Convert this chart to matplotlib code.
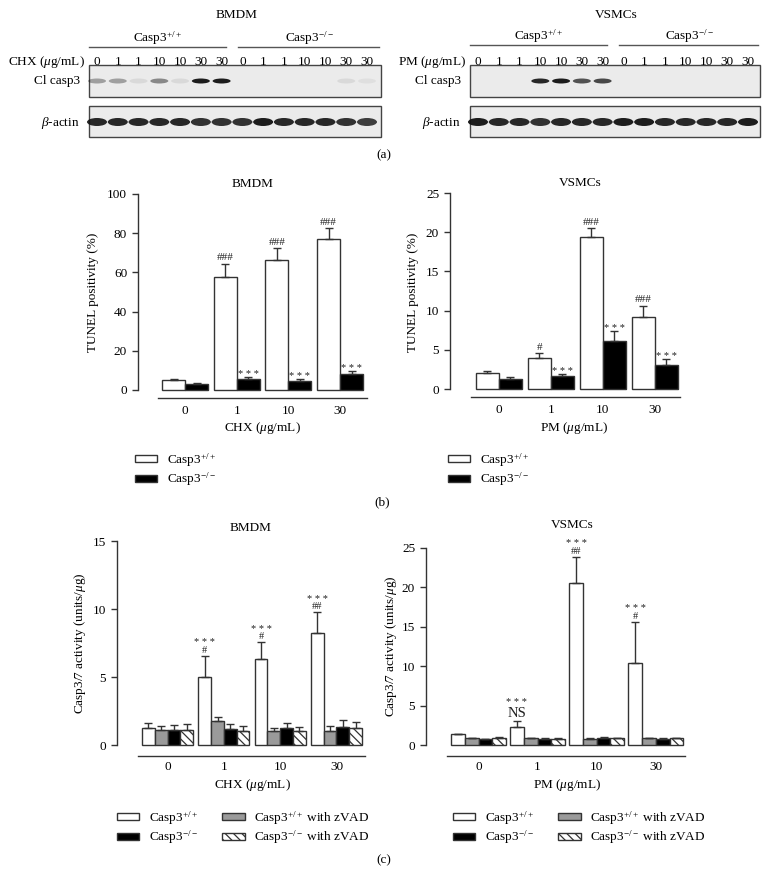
import matplotlib
matplotlib.use("Agg")
import matplotlib.pyplot as plt
from matplotlib.patches import Rectangle, Ellipse, Patch
import numpy as np

plt.rcParams['font.family'] = ['Liberation Serif', 'DejaVu Serif']
plt.rcParams['mathtext.fontset'] = 'custom'
plt.rcParams['mathtext.rm'] = 'Liberation Serif'
plt.rcParams['mathtext.it'] = 'Liberation Serif:italic'
plt.rcParams['font.size'] = 9.5
plt.rcParams['hatch.linewidth'] = 0.9

W, H = 768, 886

########################## data ##########################
doses = ['0', '1', '10', '30']
lane_doses = ['0', '1', '1', '10', '10', '30', '30'] * 2
wt = 'Casp3$^{+/+}$'
ko = 'Casp3$^{-/-}$'

# (a) band intensity per lane, 0 = no band, 1 = strongest
bmdm_cl_casp3 = [0.35, 0.35, 0.08, 0.45, 0.08, 0.95, 0.95, 0, 0, 0, 0, 0, 0.08, 0.05]
bmdm_actin = [0.9, 0.9, 0.9, 0.9, 0.9, 0.85, 0.85, 0.85, 0.95, 0.9, 0.9, 0.9, 0.85, 0.8]
vsmc_cl_casp3 = [0, 0, 0, 0.9, 0.95, 0.7, 0.75, 0, 0, 0, 0, 0, 0, 0]
vsmc_actin = [0.95, 0.9, 0.9, 0.85, 0.9, 0.9, 0.9, 0.95, 0.95, 0.9, 0.9, 0.9, 0.9, 0.95]

# (b) TUNEL positivity (%)
tunel_bmdm_wt = [5.0, 57.8, 66.3, 77.0]
tunel_bmdm_wt_err = [0.6, 6.6, 6.0, 5.5]
tunel_bmdm_ko = [3.2, 5.6, 4.6, 8.0]
tunel_bmdm_ko_err = [0.3, 0.8, 0.8, 1.7]
tunel_bmdm_wt_sig = ['', '###', '###', '###']
tunel_bmdm_ko_sig = ['', '* * *', '* * *', '* * *']

tunel_vsmc_wt = [2.0, 3.9, 19.4, 9.15]
tunel_vsmc_wt_err = [0.25, 0.65, 1.1, 1.5]
tunel_vsmc_ko = [1.28, 1.66, 6.16, 3.0]
tunel_vsmc_ko_err = [0.25, 0.2, 1.3, 0.8]
tunel_vsmc_wt_sig = ['', '#', '###', '###']
tunel_vsmc_ko_sig = ['', '* * *', '* * *', '* * *']

# (c) Casp3/7 activity (units/ug)
act_bmdm_wt = [1.22, 5.0, 6.3, 8.2]
act_bmdm_wt_err = [0.4, 1.57, 1.25, 1.55]
act_bmdm_wt_z = [1.07, 1.74, 1.0, 1.04]
act_bmdm_wt_z_err = [0.35, 0.35, 0.27, 0.35]
act_bmdm_ko = [1.13, 1.18, 1.22, 1.32]
act_bmdm_ko_err = [0.35, 0.4, 0.42, 0.5]
act_bmdm_ko_z = [1.13, 1.04, 1.0, 1.22]
act_bmdm_ko_z_err = [0.4, 0.35, 0.33, 0.45]
act_bmdm_hash = ['', '#', '#', '##']
act_bmdm_star = ['', '* * *', '* * *', '* * *']

act_vsmc_wt = [1.35, 2.33, 20.5, 10.4]
act_vsmc_wt_err = [0.1, 0.75, 3.4, 5.25]
act_vsmc_wt_z = [0.85, 0.85, 0.8, 0.85]
act_vsmc_wt_z_err = [0.05, 0.05, 0.05, 0.05]
act_vsmc_ko = [0.75, 0.78, 0.95, 0.78]
act_vsmc_ko_err = [0.05, 0.05, 0.08, 0.05]
act_vsmc_ko_z = [0.93, 0.8, 0.9, 0.85]
act_vsmc_ko_z_err = [0.1, 0.05, 0.05, 0.05]
act_vsmc_hash = ['', 'NS', '##', '#']
act_vsmc_star = ['', '* * *', '* * *', '* * *']

########################## colors ##########################
edge = '#333333'
white = '#ffffff'
black = '#000000'
gray = '#9a9a9a'

fig = plt.figure(figsize=(W / 100, H / 100), dpi=100)

# overlay in pixel coordinates for blots and free text
ax0 = fig.add_axes([0, 0, 1, 1])
ax0.set_xlim(0, W)
ax0.set_ylim(H, 0)
ax0.axis('off')


def px_axes(left, top, right, bottom):
    return fig.add_axes([left / W, 1 - bottom / H, (right - left) / W, (bottom - top) / H])


########################## (a) blots ##########################
def draw_blot(x0, x1, y0, y1, lanes, values, band_y, bw, bh):
    ax0.add_patch(Rectangle((x0, y0), x1 - x0, y1 - y0, facecolor='#ebebeb',
                            edgecolor='#444444', lw=1))
    for x, v in zip(lanes, values):
        if v > 0:
            ax0.add_patch(Ellipse((x, band_y), bw, bh, facecolor='#111111', alpha=v, lw=0))


def blot_panel(x0, x1, lane0, lane1, title, title_x, treat, casp, actin, line_y):
    lanes = np.linspace(lane0, lane1, 14)
    ax0.text(title_x, 15, title, ha='center', va='center')
    mid = (lanes[6] + lanes[7]) / 2
    ax0.plot([x0, mid - 6], [line_y, line_y], color='#555555', lw=1)
    ax0.plot([mid + 6, x1 - 2], [line_y, line_y], color='#555555', lw=1)
    ax0.text((x0 + mid - 6) / 2, line_y - 9, wt, ha='center', va='center')
    ax0.text((mid + 6 + x1) / 2, line_y - 9, ko, ha='center', va='center')
    ax0.text(x0 - 4, 62, treat + r' ($\mu$g/mL)', ha='right', va='center')
    for x, d in zip(lanes, lane_doses):
        ax0.text(x, 62, d, ha='center', va='center')
    draw_blot(x0, x1, 65, 97, lanes, casp, 81, 18, 5)
    draw_blot(x0, x1, 106, 137, lanes, actin, 122, 20, 8)
    ax0.text(x0 - 9, 81, 'Cl casp3', ha='right', va='center')
    ax0.text(x0 - 9, 123, r'$\beta$-actin', ha='right', va='center')


blot_panel(89, 381, 97, 367, 'BMDM', 237, 'CHX', bmdm_cl_casp3, bmdm_actin, 47)
blot_panel(470, 760, 478, 748, 'VSMCs', 616, 'PM', vsmc_cl_casp3, vsmc_actin, 45)
ax0.text(384, 155, '(a)', ha='center', va='center')


########################## bar panels ##########################
def style_axes(ax, xlim, ymax, yticks, bounds, offset_px, pad_px):
    ax.set_xlim(*xlim)
    ax.set_ylim(0, ymax)
    ax.patch.set_visible(False)
    for s in ['top', 'right']:
        ax.spines[s].set_visible(False)
    for s in ['left', 'bottom']:
        ax.spines[s].set_color(edge)
        ax.spines[s].set_linewidth(1.0)
    ax.spines['left'].set_bounds(0, ymax)
    ax.spines['bottom'].set_position(('outward', offset_px * 0.72))
    ax.spines['bottom'].set_bounds(*bounds)
    ax.set_xticks(range(4))
    ax.set_xticklabels(doses)
    ax.set_yticks(yticks)
    ax.tick_params(axis='x', length=0, pad=pad_px * 0.72)
    ax.tick_params(axis='y', direction='out', length=4.3, width=1, color=edge, pad=3.5)


def draw_bars(ax, series, errs, colors, hatches, width):
    n = len(series)
    x = np.arange(4)
    tops = []
    for i, (vals, err, c, h) in enumerate(zip(series, errs, colors, hatches)):
        pos = x + (i - (n - 1) / 2) * width
        bars = ax.bar(pos, vals, width, color=c, edgecolor=edge, lw=1, hatch=h,
                      yerr=[np.zeros(4), err], capsize=3,
                      error_kw=dict(elinewidth=1, capthick=1, ecolor=edge))
        for b in bars:
            b.set_clip_on(False)
        tops.append((pos, np.array(vals) + np.array(err)))
    return tops


def annotate(ax, pos, tops, labels, dy_px, size):
    for p, t, s in zip(pos, tops, labels):
        if s:
            ax.annotate(s, (p, t), xytext=(0, dy_px * 0.72), textcoords='offset points',
                        ha='center', va='baseline', fontsize=size, color='#222222')


def add_legend(labels, colors, hatches, x_px, y_px, ncol):
    handles = [Patch(facecolor=c, edgecolor=edge, hatch=h, lw=1)
               for c, h in zip(colors, hatches)]
    fig.legend(handles, labels, loc='upper left', bbox_to_anchor=(x_px / W, 1 - y_px / H),
               ncol=ncol, frameon=False, borderpad=0, borderaxespad=0,
               handlelength=1.7, handleheight=0.45, handletextpad=0.7,
               labelspacing=0.15, columnspacing=1.85, fontsize=9.5)


# (b) TUNEL, BMDM
ax = px_axes(138, 194, 370, 390)
style_axes(ax, (-0.91, 3.58), 100, [0, 20, 40, 60, 80, 100], (-0.52, 3.52), 8, 7)
t = draw_bars(ax, [tunel_bmdm_wt, tunel_bmdm_ko], [tunel_bmdm_wt_err, tunel_bmdm_ko_err],
              [white, black], [None, None], 0.445)
annotate(ax, *t[0], tunel_bmdm_wt_sig, 3.5, 8)
annotate(ax, *t[1], tunel_bmdm_ko_sig, 0, 7.5)
ax0.text(253, 184, 'BMDM', ha='center', va='center')
ax0.text(262, 428, r'CHX ($\mu$g/mL)', ha='center', va='center')
ax0.text(93, 292, 'TUNEL positivity (%)', ha='center', va='center', rotation=90)

# (b) TUNEL, VSMCs
ax = px_axes(450, 193, 683, 389)
style_axes(ax, (-0.94, 3.54), 25, [0, 5, 10, 15, 20, 25], (-0.54, 3.48), 8, 7)
t = draw_bars(ax, [tunel_vsmc_wt, tunel_vsmc_ko], [tunel_vsmc_wt_err, tunel_vsmc_ko_err],
              [white, black], [None, None], 0.44)
annotate(ax, *t[0], tunel_vsmc_wt_sig, 3.5, 8)
annotate(ax, *t[1], tunel_vsmc_ko_sig, 0, 7.5)
ax0.text(580, 183, 'VSMCs', ha='center', va='center')
ax0.text(574, 428, r'PM ($\mu$g/mL)', ha='center', va='center')
ax0.text(413, 292, 'TUNEL positivity (%)', ha='center', va='center', rotation=90)

add_legend([wt, ko], [white, black], [None, None], 135, 451, 1)
add_legend([wt, ko], [white, black], [None, None], 448, 451, 1)
ax0.text(382, 502, '(b)', ha='center', va='center')

# (c) Casp3/7 activity
c_labels = [wt, ko, wt + ' with zVAD', ko + ' with zVAD']
c_colors = [white, black, gray, white]
c_hatch = [None, None, None, '\\\\\\\\']

ax = px_axes(117, 541, 368, 745)
style_axes(ax, (-0.9, 3.56), 15, [0, 5, 10, 15], (-0.52, 3.51), 11, 5)
t = draw_bars(ax, [act_bmdm_wt, act_bmdm_wt_z, act_bmdm_ko, act_bmdm_ko_z],
              [act_bmdm_wt_err, act_bmdm_wt_z_err, act_bmdm_ko_err, act_bmdm_ko_z_err],
              [white, gray, black, white], [None, None, None, '\\\\\\\\'], 0.227)
annotate(ax, *t[0], act_bmdm_hash, 3, 7.5)
annotate(ax, *t[0], act_bmdm_star, 10.5, 7.5)
ax0.text(251, 528, 'BMDM', ha='center', va='center')
ax0.text(252, 785, r'CHX ($\mu$g/mL)', ha='center', va='center')
ax0.text(80, 643, r'Casp3/7 activity (units/$\mu$g)', ha='center', va='center', rotation=90)

ax = px_axes(426, 548, 690, 745)
style_axes(ax, (-0.89, 3.58), 25, [0, 5, 10, 15, 20, 25], (-0.53, 3.49), 11, 5)
t = draw_bars(ax, [act_vsmc_wt, act_vsmc_wt_z, act_vsmc_ko, act_vsmc_ko_z],
              [act_vsmc_wt_err, act_vsmc_wt_z_err, act_vsmc_ko_err, act_vsmc_ko_z_err],
              [white, gray, black, white], [None, None, None, '\\\\\\\\'], 0.233)
pos, tops = t[0]
for p, tp, hs, st in zip(pos, tops, act_vsmc_hash, act_vsmc_star):
    if hs == 'NS':
        annotate(ax, [p], [tp], [hs], 4, 10.5)
        annotate(ax, [p], [tp], [st], 15.5, 7.5)
    elif hs:
        annotate(ax, [p], [tp], [hs], 3, 7.5)
        annotate(ax, [p], [tp], [st], 10.5, 7.5)
ax0.text(572, 525, 'VSMCs', ha='center', va='center')
ax0.text(567, 785, r'PM ($\mu$g/mL)', ha='center', va='center')
ax0.text(391, 646, r'Casp3/7 activity (units/$\mu$g)', ha='center', va='center', rotation=90)

add_legend(c_labels, c_colors, c_hatch, 117, 809, 2)
add_legend(c_labels, c_colors, c_hatch, 453, 809, 2)
ax0.text(384, 860, '(c)', ha='center', va='center')

fig.savefig('out.png', dpi=100)
